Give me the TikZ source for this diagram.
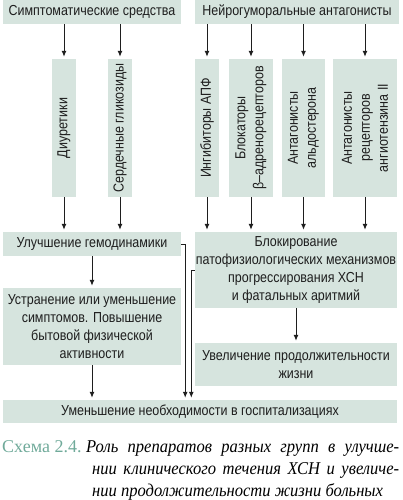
\documentclass[tikz,border=0pt]{standalone}
\usepackage{fontspec}
\setmainfont{Liberation Sans}[FakeStretch=0.86]
\newfontfamily\capfont{Liberation Serif}[FakeStretch=0.92]
\newfontfamily\capnumfont{Liberation Serif}
\usetikzlibrary{arrows.meta}
\definecolor{boxfill}{RGB}{214,228,222}
\definecolor{capteal}{RGB}{112,170,154}
\definecolor{inkgray}{RGB}{30,30,30}

\begin{document}
\begin{tikzpicture}[x=1pt,y=-1pt,
    box/.style={fill=boxfill,inner sep=0pt,align=center,text=inkgray,
      font=\fontsize{14.5}{18}\selectfont},
    vbox/.style={box,rotate=90,minimum width=138pt},
    arr/.style={-{Latex[length=6pt,width=5pt]},line width=1pt,draw=inkgray,shorten >=2pt},
    capline/.style={anchor=base west,inner sep=0pt,font=\capfont\itshape\fontsize{18}{22}\selectfont}]
  \useasboundingbox (0,0) rectangle (402,500);

  % top row
  \node[box,minimum width=178pt,minimum height=24pt] (symp) at (92,12) {Симптоматические средства};
  \node[box,minimum width=204pt,minimum height=24pt] (neuro) at (297,12) {Нейрогуморальные антагонисты};

  % drug groups
  \node[vbox,minimum height=24pt] (diur) at (64,128) {Диуретики};
  \node[vbox,minimum height=24pt] (glyc) at (120,128) {Сердечные гликозиды};
  \node[vbox,minimum height=24pt] (apf) at (207,128) {Ингибиторы АПФ};
  \node[vbox,minimum height=44pt] (beta) at (251,128) {Блокаторы\\β–адренорецепторов};
  \node[vbox,minimum height=43pt] (aldo) at (303.5,128) {Антагонисты\\альдостерона};
  \node[vbox,minimum height=64pt] (arb) at (365,128) {Антагонисты\\рецепторов\\ангиотензина II};

  \draw[arr] (symp.south -| diur) -- (diur.east);
  \draw[arr] (symp.south -| glyc) -- (glyc.east);
  \draw[arr] (neuro.south -| apf) -- (apf.east);
  \draw[arr] (neuro.south -| beta) -- (beta.east);
  \draw[arr] (neuro.south -| aldo) -- (aldo.east);
  \draw[arr] (neuro.south -| arb) -- (arb.east);

  % effects
  \node[box,minimum width=178pt,minimum height=24pt] (hemo) at (92,244) {Улучшение гемодинамики};
  \node[box,minimum width=202pt,minimum height=76pt] (block) at (296,270)
    {Блокирование\\патофизиологических механизмов\\прогрессирования ХСН\\и фатальных аритмий};
  \node[box,minimum width=178pt,minimum height=77pt] (relief) at (92,326.5)
    {Устранение или уменьшение\\симптомов. Повышение\\бытовой физической\\активности};
  \node[box,minimum width=202pt,minimum height=43pt] (life) at (296,364.5)
    {Увеличение продолжительности\\жизни};
  \node[box,minimum width=394pt,minimum height=23pt] (hosp) at (200,411.5)
    {Уменьшение необходимости в госпитализациях};

  \draw[arr] (diur.west) -- (diur.west |- hemo.north);
  \draw[arr] (glyc.west) -- (glyc.west |- hemo.north);
  \draw[arr] (apf.west) -- (apf.west |- block.north);
  \draw[arr] (beta.west) -- (beta.west |- block.north);
  \draw[arr] (aldo.west) -- (aldo.west |- block.north);
  \draw[arr] (arb.west) -- (arb.west |- block.north);

  \draw[arr] (hemo.south) -- (relief.north);
  \draw[arr] (block.south) -- (life.north);
  \draw[arr] (relief.south) -- (relief.south |- hosp.north);

  \coordinate (hj) at ([xshift=4pt]hemo.east);
  \coordinate (bj) at ([xshift=-3.5pt]block.west);
  \draw[arr] (hemo.east) -- (hj) -- (hj |- hosp.north);
  \draw[arr] (block.west) -- (bj) -- (bj |- hosp.north);

  % caption
  \node[anchor=base west,inner sep=0pt,text=capteal,font=\capnumfont\fontsize{18}{22}\selectfont]
    (capnum) at (2,452) {Схема 2.4.};
  \node[capline] (cap1) at (86,452) {\makebox[313pt][s]{Роль препаратов разных групп в улучше-}};
  \node[capline] (cap2) at (92,474) {\makebox[307pt][s]{нии клинического течения ХСН и увеличе-}};
  \node[capline] (cap3) at (92,496) {нии продолжительности жизни больных};
\end{tikzpicture}
\end{document}
